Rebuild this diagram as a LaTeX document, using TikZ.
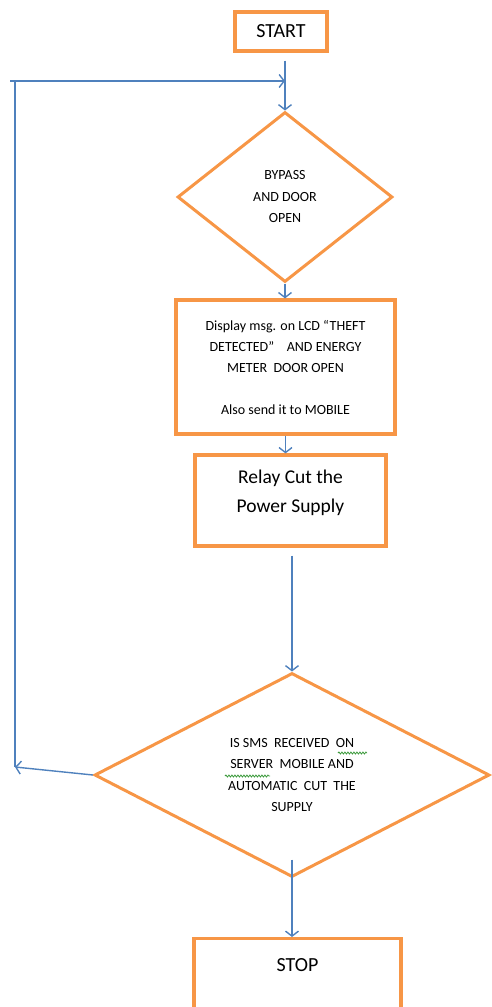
\documentclass[tikz,border=0pt]{standalone}
\usepackage{fontspec}
\setmainfont{Carlito}
\usetikzlibrary{shapes.geometric,arrows.meta,decorations.pathmorphing}

\definecolor{boxorange}{HTML}{F79646}
\definecolor{flowblue}{HTML}{4F81BD}
\definecolor{spellgreen}{HTML}{3C9A3C}

\tikzstyle{terminal}=[shape=rectangle,draw=boxorange,line width=3.2pt,inner sep=0pt,font=\fontsize{20}{24}\selectfont]
\tikzstyle{process}=[shape=rectangle,draw=boxorange,line width=3.2pt,inner sep=0pt,align=center]
\tikzstyle{decision}=[shape=diamond,draw=boxorange,line width=3pt,inner sep=0pt,align=center,font=\fontsize{14}{21.5}\selectfont]
\tikzstyle{flowedge}=[draw=flowblue,line width=1.4pt,-{Straight Barb[length=5pt,width=13pt]}]
\tikzstyle{loopedge}=[draw=flowblue,line width=1.4pt]
\tikzstyle{spelling}=[draw=spellgreen,line width=0.8pt,decorate,decoration={snake,amplitude=1pt,segment length=3pt}]

\begin{document}
\begin{tikzpicture}[x=1pt,y=-1pt]
\useasboundingbox (0,0) rectangle (491,1007);
% terminals
\node[terminal,minimum width=92pt,minimum height=39pt] (start) at (281,31.5) {START};
\node[terminal,anchor=north,minimum width=207pt,text height=27pt,text depth=70pt,inner ysep=6pt] (stop) at (297.5,937) {STOP};
% decisions
\node[decision,shape aspect=1.26,minimum width=215pt,minimum height=170pt] (bypass) at (285,197)
    {BYPASS\\AND DOOR\\OPEN};
\node[decision,shape aspect=1.94,minimum width=395pt,minimum height=204pt] (sms) at (292,775)
    {IS SMS\ \ RECEIVED\ \ ON\\SERVER\ \ MOBILE AND\\AUTOMATIC\ \ CUT\ \ THE\\SUPPLY};
% processes
\node[process,minimum width=219pt,minimum height=134pt,font=\fontsize{14}{21}\selectfont] (lcd) at (285.5,367)
    {Display msg. on LCD “THEFT\\DETECTED”\ \ \ \ AND ENERGY\\METER\ \ DOOR OPEN\\[21pt]Also send it to MOBILE};
\node[process,minimum width=191pt,minimum height=91pt,font=\fontsize{19.5}{29}\selectfont] (relay) at (290.5,500.5)
    {Relay\ Cut the\\Power\ Supply\\[-10pt]\mbox{}};
% loop back
\coordinate (looptail) at (10,81);
\coordinate (looptop) at (15,81);
\coordinate (loopbot) at (15,767);
\coordinate (join) at (285,81);
% flow
\draw[flowedge,shorten <=8pt] (start.south -| bypass.north) -- (bypass.north);
\draw[flowedge] (bypass.south) -- (bypass.south |- lcd.north);
\draw[flowedge] (lcd.south) -- (lcd.south |- relay.north);
\draw[flowedge,shorten <=8pt] (sms.north |- relay.south) -- (sms.north);
\draw[flowedge,shorten <=-19pt] (sms.south) -- (sms.south |- stop.north);
\draw[flowedge] (sms.west) -- (loopbot);
\draw[loopedge] (loopbot) -- (looptop);
\draw[flowedge] (looptail) -- (join);
% spelling marks
\draw[spelling] (338,753) -- (367,753);
\draw[spelling] (225,776) -- (270,776);
\end{tikzpicture}
\end{document}
